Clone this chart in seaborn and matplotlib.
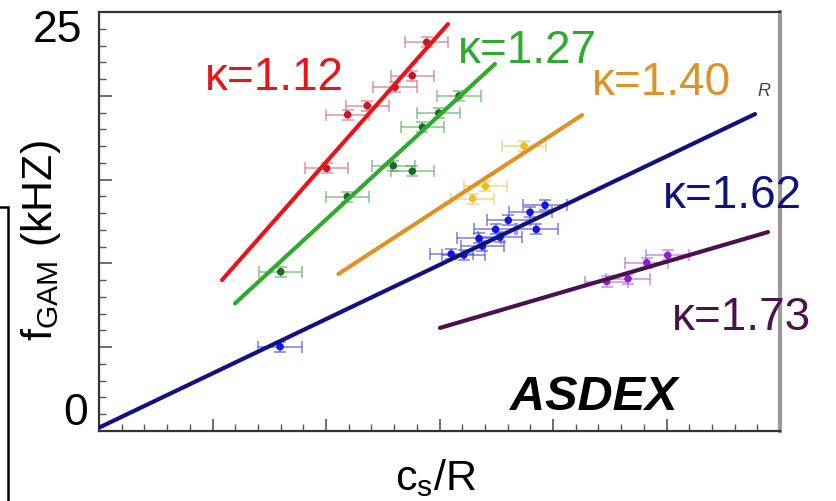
import numpy as np
import pandas as pd
import matplotlib
matplotlib.use("Agg")
import matplotlib.pyplot as plt
import seaborn as sns
from matplotlib.lines import Line2D
from matplotlib.ticker import MultipleLocator

# ---------------- data ----------------
series = ["1.12", "1.27", "1.40", "1.62", "1.73"]
kappa_labels = ["κ=1.12", "κ=1.27", "κ=1.40", "κ=1.62", "κ=1.73"]

red_x = [2.887, 2.760, 2.608, 2.364, 2.191, 2.006]
red_y = [23.19, 21.20, 20.51, 19.41, 18.87, 15.67]
green_x = [3.172, 2.993, 2.850, 2.593, 2.760, 2.188, 1.601]
green_y = [19.99, 18.97, 18.13, 15.83, 15.50, 13.98, 9.50]
orange_x = [3.745, 3.405, 3.293]
orange_y = [17.01, 14.60, 13.87]
blue_x = [3.930, 3.798, 3.606, 3.853, 3.494, 3.533, 3.348, 3.377, 3.103, 3.214, 1.595]
blue_y = [13.47, 13.05, 12.57, 12.03, 12.03, 11.56, 11.49, 11.03, 10.56, 10.50, 5.03]
purple_x = [5.011, 4.826, 4.661, 4.473]
purple_y = [10.48, 10.04, 9.09, 8.92]
x_err = 0.19
y_err = 0.3

# fitted lines (start / end)
fit_x0 = [1.084, 1.198, 2.110, 0.0, 3.004]
fit_x1 = [3.075, 3.489, 4.256, 5.780, 5.894]
fit_y0 = [9.01, 7.61, 9.37, 0.2, 6.15]
fit_y1 = [24.28, 21.90, 18.85, 18.91, 11.87]

ytick_labels = ["0", "25"]
x_label = r"c$_\mathregular{s}$/R"
y_label = r"f$_\mathregular{GAM}$ (kHZ)"
panel_label = "ASDEX"

# ---------------- styles ----------------
line_colors = ["#e8141c", "#2faa2f", "#de9226", "#10127e", "#4a124c"]
point_colors = ["#c8142a", "#1d6b2a", "#e8c020", "#1414e6", "#8a24c8"]
err_colors = ["#d87080", "#60b060", "#f0c860", "#5050e0", "#b070e0"]

xs = [red_x, green_x, orange_x, blue_x, purple_x]
ys = [red_y, green_y, orange_y, blue_y, purple_y]
df = pd.concat([pd.DataFrame({"x": x, "y": y, "kappa": s}) for x, y, s in zip(xs, ys, series)],
               ignore_index=True)
fits = pd.concat([pd.DataFrame({"x": [a, b], "y": [c, d], "kappa": s})
                  for a, b, c, d, s in zip(fit_x0, fit_x1, fit_y0, fit_y1, series)],
                 ignore_index=True)

sns.set_theme(style="white")
plt.rcParams["font.family"] = ["Liberation Sans", "DejaVu Sans"]
plt.rcParams["mathtext.fontset"] = "custom"
plt.rcParams["mathtext.rm"] = "Liberation Sans"

W, H = 836, 502
fig = plt.figure(figsize=(W / 100, H / 100), dpi=100)
ax = fig.add_axes([99 / W, 1 - 432 / H, (780 - 99) / W, (432 - 13) / H])

# error bars
for i, s in enumerate(series):
    sub = df[df.kappa == s]
    ax.errorbar(sub.x, sub.y, xerr=x_err, yerr=y_err, fmt="none",
                ecolor=err_colors[i], elinewidth=1.1, capsize=4, capthick=1.1,
                alpha=0.75, zorder=2)

sns.scatterplot(data=df, x="x", y="y", hue="kappa", palette=point_colors,
                hue_order=series, s=30, edgecolor="none", legend=False, ax=ax, zorder=3)
sns.lineplot(data=fits, x="x", y="y", hue="kappa", palette=line_colors,
             hue_order=series, linewidth=3, legend=False, ax=ax, zorder=4,
             estimator=None, sort=False)

ax.set_xlim(0, 6)
ax.set_ylim(0, 25)
ax.xaxis.set_major_locator(MultipleLocator(1))
ax.xaxis.set_minor_locator(MultipleLocator(0.2))
ax.yaxis.set_major_locator(MultipleLocator(5))
ax.yaxis.set_minor_locator(MultipleLocator(1))
ax.tick_params(which="both", direction="in", bottom=True, left=True,
               top=False, right=False, labelbottom=False, labelleft=False,
               color="#555555")
ax.tick_params(which="major", length=9, width=1.2)
ax.tick_params(which="minor", length=5, width=1.0)
ax.set_xlabel("")
ax.set_ylabel("")
for side in ["left", "bottom", "top"]:
    ax.spines[side].set_color("#333333")
    ax.spines[side].set_linewidth(1.6)
ax.spines["right"].set_color("#9a9a9a")
ax.spines["right"].set_linewidth(3)


def fx(px):
    return px / W


def fy(py):
    return 1 - py / H


# kappa labels
label_pos = [(205, 90), (458, 63), (592, 95), (663, 208), (672, 330)]
for (px, py), lab, c in zip(label_pos, kappa_labels, line_colors):
    fig.text(fx(px), fy(py), lab, color=c, fontsize=33, ha="left", va="baseline")

fig.text(fx(510), fy(410), panel_label, fontsize=35, fontweight="bold",
         fontstyle="italic", color="black", ha="left", va="baseline")

# y tick labels
fig.text(fx(82), fy(42), ytick_labels[1], fontsize=32, ha="right", va="baseline", color="black")
fig.text(fx(88), fy(425), ytick_labels[0], fontsize=32, ha="right", va="baseline", color="black")

# axis labels
fig.text(fx(436), fy(490), x_label, fontsize=31, ha="center", va="baseline", color="black")
fig.text(fx(63), fy(241), y_label, fontsize=31, rotation=90, ha="right",
         va="center", color="black")

# stray "R" near upper right
fig.text(fx(764), fy(92), "R", fontsize=13, fontstyle="italic", color="#444444",
         ha="center", va="center")

# box corner fragment on left
fig.add_artist(Line2D([fx(0), fx(8)], [fy(208), fy(208)], color="black", lw=1.8))
fig.add_artist(Line2D([fx(8), fx(8)], [fy(208), fy(502)], color="black", lw=1.8))

fig.savefig("out.png", dpi=100, facecolor="white")
